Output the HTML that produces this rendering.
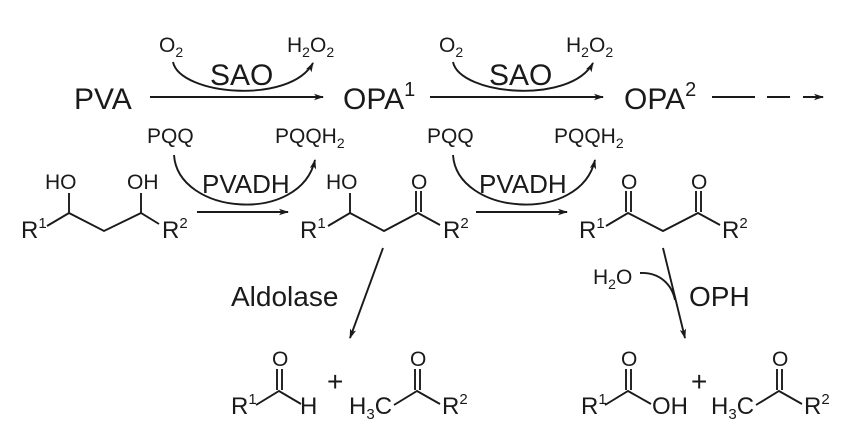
<!DOCTYPE html>
<html><head><meta charset="utf-8"><style>
html,body{margin:0;padding:0;background:#fff;}
svg{display:block;}
text{font-family:"Liberation Sans",Arial,sans-serif;fill:#1a1a1a;}
</style></head><body>
<svg width="866" height="435" viewBox="0 0 866 435" xmlns="http://www.w3.org/2000/svg">
<defs>
<marker id="ah" markerWidth="10" markerHeight="8" refX="9" refY="4" orient="auto" markerUnits="userSpaceOnUse">
<path d="M0,0.8 L10,4 L0,7.2 L2.5,4 Z" fill="#1a1a1a"/>
</marker>
</defs>
<g stroke="#1a1a1a" stroke-width="1.9" fill="none">
<line x1="150" y1="97" x2="323" y2="97" marker-end="url(#ah)"/>
<path d="M173,62 C180,95 290,105 313,63" marker-end="url(#ah)"/>
<line x1="430" y1="97" x2="603" y2="97" marker-end="url(#ah)"/>
<path d="M453,62 C460,95 570,105 593,63" marker-end="url(#ah)"/>
<line x1="712" y1="97" x2="755" y2="97"/>
<line x1="767" y1="97" x2="790" y2="97"/>
<line x1="803" y1="97" x2="823" y2="97" marker-end="url(#ah)"/>
<line x1="197" y1="212" x2="288" y2="212" marker-end="url(#ah)"/>
<path d="M174,155 C178,215 300,225 315,160" marker-end="url(#ah)"/>
<line x1="476" y1="212" x2="567" y2="212" marker-end="url(#ah)"/>
<path d="M453,155 C457,215 580,225 595,160" marker-end="url(#ah)"/>
<line x1="383" y1="248" x2="350" y2="338" marker-end="url(#ah)"/>
<line x1="663" y1="248" x2="685" y2="338" marker-end="url(#ah)"/>
<path d="M640,273 C660,272 672,285 675,300"/>
<polyline points="47,226 69,213 104,231 141,213 159,224"/>
<line x1="69" y1="213" x2="69" y2="193"/>
<line x1="141" y1="213" x2="141" y2="193"/>
<polyline points="328,226 350,213 384,231 418,213 440,225"/>
<line x1="350" y1="213" x2="350" y2="193"/>
<line x1="416" y1="212" x2="416" y2="191"/>
<line x1="421" y1="212" x2="421" y2="191"/>
<polyline points="606,226 628,213 663,231 698,213 720,225"/>
<line x1="626" y1="212" x2="626" y2="191"/>
<line x1="631" y1="212" x2="631" y2="191"/>
<line x1="696" y1="212" x2="696" y2="191"/>
<line x1="701" y1="212" x2="701" y2="191"/>
<polyline points="256,405 279,391 301,404"/>
<line x1="277" y1="390" x2="277" y2="369"/>
<line x1="282" y1="390" x2="282" y2="369"/>
<polyline points="394,405 417,391 440,404"/>
<line x1="415" y1="390" x2="415" y2="369"/>
<line x1="420" y1="390" x2="420" y2="369"/>
<polyline points="605,405 628,391 651,404"/>
<line x1="626" y1="390" x2="626" y2="369"/>
<line x1="631" y1="390" x2="631" y2="369"/>
<polyline points="756,405 779,391 802,404"/>
<line x1="777" y1="390" x2="777" y2="369"/>
<line x1="782" y1="390" x2="782" y2="369"/>
</g>
<text x="74" y="109" font-size="30">PVA</text>
<text x="343" y="109" font-size="30">OPA<tspan font-size="20" dy="-13">1</tspan></text>
<text x="624" y="109" font-size="30">OPA<tspan font-size="20" dy="-13">2</tspan></text>
<text x="159" y="52" font-size="21">O<tspan font-size="14" dy="5">2</tspan></text>
<text x="287" y="52" font-size="21">H<tspan font-size="14" dy="5">2</tspan><tspan dy="-5">O</tspan><tspan font-size="14" dy="5">2</tspan></text>
<text x="439" y="52" font-size="21">O<tspan font-size="14" dy="5">2</tspan></text>
<text x="566" y="52" font-size="21">H<tspan font-size="14" dy="5">2</tspan><tspan dy="-5">O</tspan><tspan font-size="14" dy="5">2</tspan></text>
<text x="210" y="85" font-size="30">SAO</text>
<text x="489" y="85" font-size="30">SAO</text>
<text x="147" y="143" font-size="21">PQQ</text>
<text x="275" y="143" font-size="21">PQQH<tspan font-size="14" dy="5">2</tspan></text>
<text x="427" y="143" font-size="21">PQQ</text>
<text x="554" y="143" font-size="21">PQQH<tspan font-size="14" dy="5">2</tspan></text>
<text x="202" y="193" font-size="26">PVADH</text>
<text x="479" y="193" font-size="26">PVADH</text>
<text x="21" y="238" font-size="24">R<tspan font-size="15" dy="-10">1</tspan></text>
<text x="162" y="238" font-size="24">R<tspan font-size="15" dy="-10">2</tspan></text>
<text x="45" y="189" font-size="21">HO</text>
<text x="127" y="189" font-size="21">OH</text>
<text x="300" y="238" font-size="24">R<tspan font-size="15" dy="-10">1</tspan></text>
<text x="443" y="238" font-size="24">R<tspan font-size="15" dy="-10">2</tspan></text>
<text x="326" y="189" font-size="21">HO</text>
<text x="411" y="189" font-size="21">O</text>
<text x="579" y="238" font-size="24">R<tspan font-size="15" dy="-10">1</tspan></text>
<text x="722" y="238" font-size="24">R<tspan font-size="15" dy="-10">2</tspan></text>
<text x="621" y="189" font-size="21">O</text>
<text x="691" y="189" font-size="21">O</text>
<text x="231" y="306" font-size="28">Aldolase</text>
<text x="689" y="306" font-size="28">OPH</text>
<text x="593" y="284" font-size="21">H<tspan font-size="14" dy="5">2</tspan><tspan dy="-5">O</tspan></text>
<text x="231" y="414" font-size="24">R<tspan font-size="15" dy="-10">1</tspan></text>
<text x="300" y="414" font-size="24">H</text>
<text x="272" y="366" font-size="21">O</text>
<text x="327" y="391" font-size="28">+</text>
<text x="349" y="414" font-size="24">H<tspan font-size="15" dy="5">3</tspan><tspan dy="-5">C</tspan></text>
<text x="410" y="366" font-size="21">O</text>
<text x="442" y="414" font-size="24">R<tspan font-size="15" dy="-10">2</tspan></text>
<text x="581" y="414" font-size="24">R<tspan font-size="15" dy="-10">1</tspan></text>
<text x="652" y="414" font-size="24">OH</text>
<text x="621" y="366" font-size="21">O</text>
<text x="691" y="391" font-size="28">+</text>
<text x="711" y="414" font-size="24">H<tspan font-size="15" dy="5">3</tspan><tspan dy="-5">C</tspan></text>
<text x="772" y="366" font-size="21">O</text>
<text x="804" y="414" font-size="24">R<tspan font-size="15" dy="-10">2</tspan></text>
</svg>
</body></html>
